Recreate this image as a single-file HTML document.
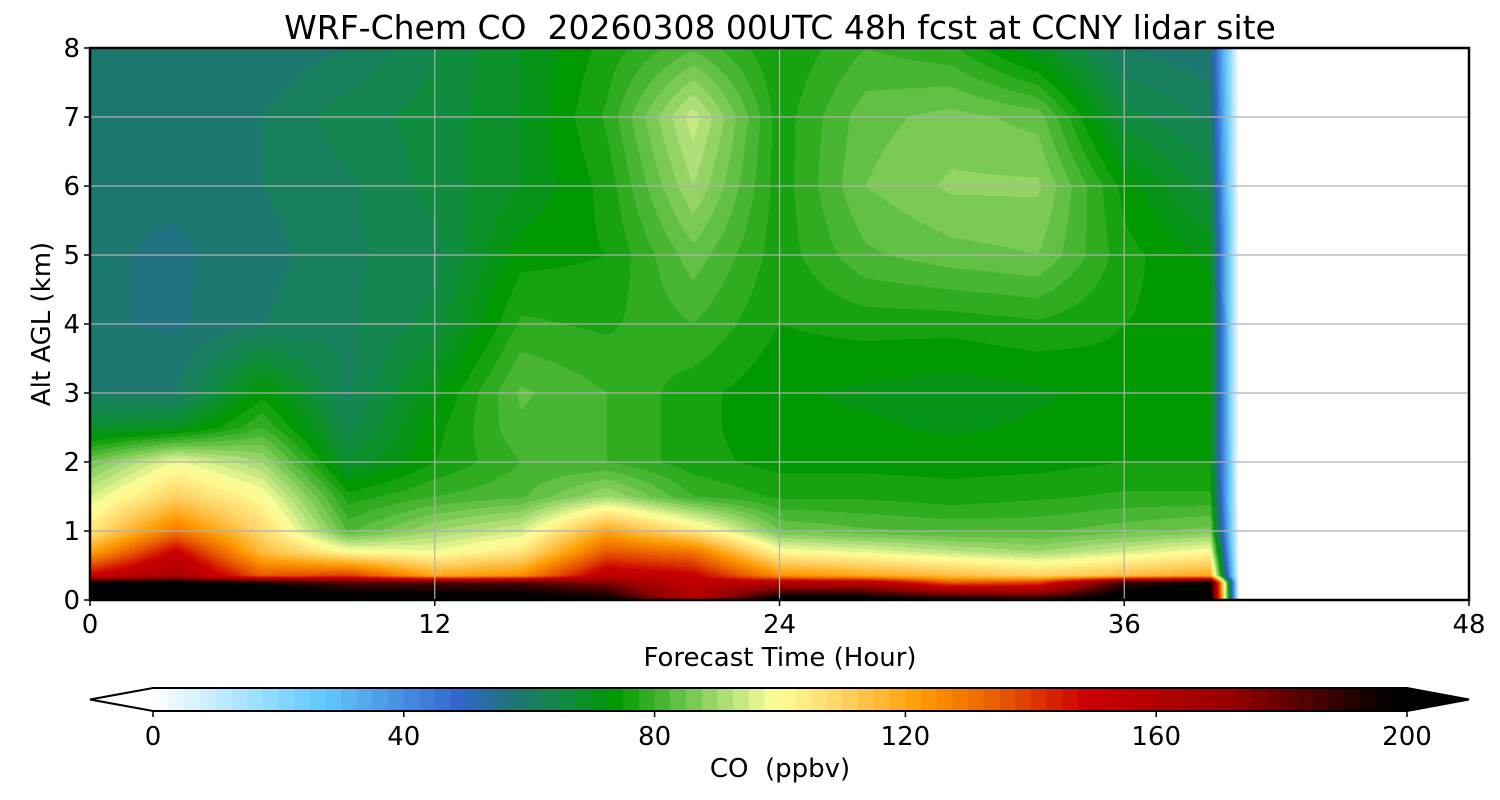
<!DOCTYPE html>
<html><head><meta charset="utf-8"><style>
body{margin:0;background:#fff;font-family:"DejaVu Sans","Liberation Sans",sans-serif;}
#wrap{position:relative;width:1500px;height:800px;overflow:hidden;}
.t{position:absolute;color:#000;white-space:nowrap;}
svg text{font-family:"DejaVu Sans","Liberation Sans",sans-serif;}
</style></head><body>
<div id="wrap">
<div class="t" style="left:0;width:1560px;text-align:center;top:8px;font-size:33px;">WRF-Chem CO&nbsp; 20260308 00UTC 48h fcst at CCNY lidar site</div>
<canvas id="field" width="1379" height="552" style="position:absolute;left:90px;top:48px;"></canvas>
<svg id="ov" width="1500" height="800" style="position:absolute;left:0;top:0;"></svg>
</div>
<script>
// ---- data ----
const times=[0,3,6,9,12,15,18,21,24,27,30,33,36,39,40];
const alts=[0,0.25,0.35,0.7,1,1.5,2,2.5,3,4,5,6,7,8];
const co_t0 =[210,200,150,120,105,95,85,68,60,58,58,58,58,58];
const co_t3 =[210,200,165,150,130,110,98,70,60,57,57,58,58,58];
const co_t6 =[210,195,135,115,108,100,90,80,74,60,59,60,60,58];
const co_t9 =[205,185,140,100,82,76,68,64,62,62,62,62,64,60];
const co_t12=[205,185,120,98,90,80,75,74,72,66,64,66,66,65];
const co_t15=[205,185,125,105,95,82,80,82,83,78,74,70,70,70];
const co_t18=[200,175,155,135,120,90,80,80,80,77,75,76,78,76];
const co_t21=[160,155,150,130,105,80,76,76,76,80,84,90,94,82];
const co_t24=[205,160,125,100,85,77,74,73,73,75,76,76,76,75];
const co_t27=[205,160,120,97,83,77,74,73,72,76,82,85,84,80];
const co_t30=[200,135,115,93,82,76,74,72,71,76,84,88,86,78];
const co_t33=[195,140,110,90,82,77,74,73,72,77,85,88,84,70];
const co_t36=[205,190,115,95,84,78,75,74,74,75,76,74,66,60];
const co_t39=[205,200,120,100,86,78,75,74,74,74,72,66,62,58];
const co_t40=[0,0,0,0,0,0,0,0,0,0,0,0,0,0];
const cols=[co_t0,co_t3,co_t6,co_t9,co_t12,co_t15,co_t18,co_t21,co_t24,co_t27,co_t30,co_t33,co_t36,co_t39,co_t40];
const xTicks=[0,12,24,36,48];
const yTicks=[0,1,2,3,4,5,6,7,8];
const cbTicks=[0,40,80,120,160,200];
// colormap stops
const stops=[[0,[255,255,255]],[26,[102,204,255]],[49,[51,102,204]],[57,[30,115,120]],[65,[19,138,72]],[74,[0,153,0]],[91,[170,221,119]],[99.5,[255,255,153]],[110,[255,210,100]],[123,[255,153,0]],[136,[230,85,0]],[148.6,[204,0,0]],[172,[150,0,0]],[198,[0,0,0]],[300,[0,0,0]]];
function cmap(v){
  v=Math.max(0,Math.min(200,Math.floor(v/2.5)*2.5+1.25));
  for(let i=0;i<stops.length-1;i++){const a=stops[i],b=stops[i+1];
    if(v<=b[0]){const f=(v-a[0])/(b[0]-a[0]);return a[1].map((c,k)=>Math.round(c+(b[1][k]-c)*f));}}
  return [0,0,0];
}
const X0=90,X1=1469,Y0=600,Y1=48;
const xs=h=>X0+(X1-X0)*h/48, ys=a=>Y0-(Y0-Y1)*a/8;
function interp(arr,v){let i=0;while(i<arr.length-2&&v>arr[i+1])i++;return [i,Math.max(0,Math.min(1,(v-arr[i])/(arr[i+1]-arr[i])))];}
const cv=document.getElementById('field'),ctx=cv.getContext('2d');
const W=cv.width,H=cv.height,img=ctx.createImageData(W,H);
for(let px=0;px<W;px++){
  const h=48*(px+0.5)/W;
  if(h>times[times.length-1]){for(let py=0;py<H;py++){const o=(py*W+px)*4;img.data[o]=img.data[o+1]=img.data[o+2]=img.data[o+3]=255;}continue;}
  const [ti,tf]=interp(times,h);
  for(let py=0;py<H;py++){
    const a=8*(H-py-0.5)/H;const [ai,af]=interp(alts,a);
    const c0=cols[ti],c1=cols[ti+1];
    const v=(1-tf)*((1-af)*c0[ai]+af*c0[ai+1])+tf*((1-af)*c1[ai]+af*c1[ai+1]);
    const c=cmap(v),o=(py*W+px)*4;img.data[o]=c[0];img.data[o+1]=c[1];img.data[o+2]=c[2];img.data[o+3]=255;}
}
ctx.putImageData(img,0,0);
const NS='http://www.w3.org/2000/svg',sv=document.getElementById('ov');
function mk(tag,at,txt){const e=document.createElementNS(NS,tag);for(const k in at)e.setAttribute(k,at[k]);if(txt!==undefined)e.textContent=txt;sv.appendChild(e);return e;}
xTicks.forEach(t=>{
  if(t>0&&t<48){const g=mk('line',{x1:xs(t),x2:xs(t),y1:Y1,y2:Y0,stroke:'#b0b0b0','stroke-width':1.2});
  
  }
  const tk=mk('line',{x1:xs(t),x2:xs(t),y1:Y0,y2:Y0+6,stroke:'#000','stroke-width':1.5});
  
  
  const l=mk('text',{x:xs(t),y:Y0+33,'text-anchor':'middle','font-size':26},String(t));
  
  
});
yTicks.forEach(t=>{
  if(t>0&&t<8){const g=mk('line',{x1:X0,x2:X1,y1:ys(t),y2:ys(t),stroke:'#b0b0b0','stroke-width':1.2});
  
  }
  const tk=mk('line',{x1:X0-6,x2:X0,y1:ys(t),y2:ys(t),stroke:'#000','stroke-width':1.5});
  
  
  const l=mk('text',{x:X0-10,y:ys(t)+9,'text-anchor':'end','font-size':26},String(t));
  
  
});
const fr=mk('rect',{x:X0,y:Y1,width:X1-X0,height:Y0-Y1,fill:'none',stroke:'#000','stroke-width':2.5});


const xl=mk('text',{x:780,y:666,'text-anchor':'middle','font-size':26},'Forecast Time (Hour)');


const yl=mk('text',{x:50,y:324,'text-anchor':'middle','font-size':26,transform:'rotate(-90 50 324)'},'Alt AGL (km)');


const C0=153,C1=1407,CT=688,CB=711,cx=v=>C0+(C1-C0)*v/200;
for(let v=0;v<200;v+=2.5){const c=cmap(v);
  const r=mk('rect',{x:cx(v),y:CT,width:(C1-C0)/80+0.6,height:CB-CT,fill:`rgb(${c})`});
  
  }
const lt=mk('polygon',{points:`${C0},${CT} 90,${(CT+CB)/2} ${C0},${CB}`,fill:'#fff'});


const rt=mk('polygon',{points:`${C1},${CT} 1469,${(CT+CB)/2} ${C1},${CB}`,fill:'#000'});


const ol=mk('polygon',{points:`${C0},${CT} ${C1},${CT} 1469,${(CT+CB)/2} ${C1},${CB} ${C0},${CB} 90,${(CT+CB)/2}`,fill:'none',stroke:'#000','stroke-width':2});


cbTicks.forEach(t=>{
  const tk=mk('line',{x1:cx(t),x2:cx(t),y1:CB,y2:CB+6,stroke:'#000','stroke-width':1.5});
  
  
  const l=mk('text',{x:cx(t),y:CB+34,'text-anchor':'middle','font-size':26},String(t));
  
  
});
const cl=mk('text',{x:780,y:777,'text-anchor':'middle','font-size':26},'CO\u00a0 (ppbv)');


</script>
</body></html>
